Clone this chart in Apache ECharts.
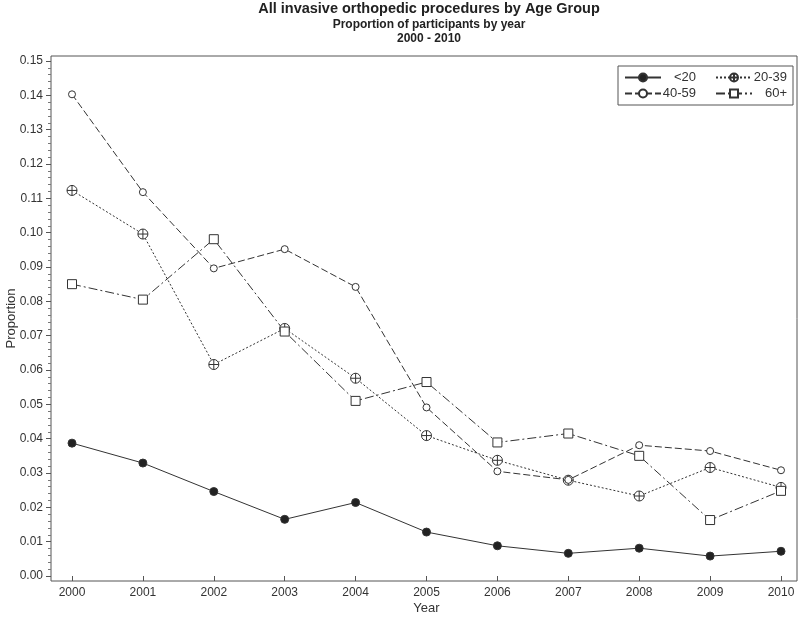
<!DOCTYPE html>
<html style="height: 100%">
<head>
    <meta charset="UTF-8">
    <title>All invasive orthopedic procedures by Age Group</title>
    <script src="https://cdn.jsdelivr.net/npm/echarts/dist/echarts.min.js"></script>
    <style>
        #main {
            height: 100%;
        }
    </style>
</head>
<body style="height: 100%; margin: 0; background: #fff">
    <div id="main"></div>
    <script type="text/javascript">
        var years = ['2000', '2001', '2002', '2003', '2004', '2005', '2006', '2007', '2008', '2009', '2010'];
        var under20 = [0.0387, 0.0329, 0.0246, 0.0165, 0.0214, 0.0128, 0.0088, 0.0066, 0.0081, 0.0058, 0.0072];
        var age20to39 = [0.1123, 0.0996, 0.0616, 0.0721, 0.0576, 0.0409, 0.0337, 0.0279, 0.0233, 0.0316, 0.0258];
        var age40to59 = [0.1403, 0.1118, 0.0896, 0.0952, 0.0842, 0.0491, 0.0305, 0.0280, 0.0381, 0.0364, 0.0308];
        var age60plus = [0.0850, 0.0805, 0.0981, 0.0712, 0.0510, 0.0565, 0.0389, 0.0415, 0.0350, 0.0163, 0.0248];
        var legendNames = ['<20', '20-39', '40-59', '60+'];

        var chartDom = document.getElementById('main');
        var myChart = echarts.init(chartDom);
        var option;

        var ink = '#333';
        var font = 'Liberation Sans';
        // circle with a cross, drawn as a path
        var crossCircle = 'path://M0 5A5 5 0 1 1 10 5A5 5 0 1 1 0 5ZM0 5L10 5M5 0L5 10';

        function makeSeries(name, data, symbol, size, dash, filled) {
            return {
                name: name,
                type: 'line',
                data: data,
                symbol: symbol,
                symbolSize: size,
                showSymbol: true,
                xAxisIndex: 0,
                yAxisIndex: 0,
                lineStyle: { color: ink, width: 1, type: dash },
                itemStyle: {
                    color: filled ? '#222' : '#fff',
                    borderColor: ink,
                    borderWidth: 1
                },
                emphasis: { disabled: true }
            };
        }

        option = {
            backgroundColor: '#fff',
            animation: false,
            textStyle: { fontFamily: font },
            title: {
                text: 'All invasive orthopedic procedures by Age Group',
                subtext: 'Proportion of participants by year\n2000 - 2010',
                left: 424,
                textAlign: 'center',
                top: -4,
                itemGap: 2,
                textStyle: { fontFamily: font, fontSize: 14.5, fontWeight: 'bold', color: '#222' },
                subtextStyle: { fontFamily: font, fontSize: 12, fontWeight: 'bold', color: '#222', lineHeight: 14 }
            },
            legend: {
                left: 618,
                top: 66,
                width: 165,
                orient: 'horizontal',
                itemWidth: 36,
                itemHeight: 10,
                itemGap: 3,
                padding: [5, 6],
                borderColor: '#555',
                borderWidth: 1,
                data: legendNames,
                formatter: function (name) {
                    // first column gets a spacer on its right
                    var first = legendNames.indexOf(name) % 2 === 0;
                    return '{a|' + name + '}' + (first ? '{s|\u00a0}' : '');
                },
                textStyle: {
                    fontFamily: font,
                    fontSize: 13,
                    color: ink,
                    rich: {
                        a: { width: 30, align: 'right', fontSize: 13, fontFamily: font, color: ink },
                        s: { width: 16, align: 'right', fontSize: 13, fontFamily: font }
                    }
                }
            },
            grid: [
                { left: 72, right: 19, top: 61, bottom: 43, outerBoundsMode: 'none', containLabel: false },
                { left: 51, right: 3, top: 56, bottom: 38, outerBoundsMode: 'none', show: true, borderColor: '#555', borderWidth: 1, backgroundColor: 'transparent' }
            ],
            xAxis: [
                {
                    type: 'category',
                    gridIndex: 0,
                    data: years,
                    boundaryGap: false,
                    offset: 5,
                    name: 'Year',
                    nameLocation: 'middle',
                    nameGap: 21,
                    nameMoveOverlap: false,
                    nameTextStyle: { fontFamily: font, fontSize: 13, color: ink },
                    axisLine: { show: false },
                    axisTick: { show: true, length: 5, lineStyle: { color: '#555' } },
                    axisLabel: { margin: 6, fontFamily: font, fontSize: 12, color: ink },
                    splitLine: { show: false }
                },
                { type: 'value', gridIndex: 1, show: false, min: 0, max: 1 }
            ],
            yAxis: [
                {
                    type: 'value',
                    gridIndex: 0,
                    min: 0,
                    max: 0.15,
                    interval: 0.01,
                    offset: 21,
                    name: 'Proportion',
                    nameLocation: 'middle',
                    nameGap: 33,
                    nameMoveOverlap: false,
                    nameTextStyle: { fontFamily: font, fontSize: 13, color: ink },
                    axisLine: { show: false },
                    axisTick: { show: true, length: 5, lineStyle: { color: '#555' } },
                    minorTick: { show: true, splitNumber: 5, length: 3, lineStyle: { color: '#777' } },
                    axisLabel: {
                        margin: 8,
                        fontFamily: font,
                        fontSize: 12,
                        color: ink,
                        formatter: function (v) { return v.toFixed(2); }
                    },
                    splitLine: { show: false }
                },
                { type: 'value', gridIndex: 1, show: false, min: 0, max: 1 }
            ],
            series: [
                makeSeries('<20', under20, 'circle', 8, 'solid', true),
                makeSeries('20-39', age20to39, crossCircle, 10, [2, 2], false),
                makeSeries('40-59', age40to59, 'circle', 7, [7, 3], false),
                makeSeries('60+', age60plus, 'rect', 9, [9, 3, 2, 3], false)
            ]
        };

        myChart.setOption(option);
    </script>
</body>
</html>
